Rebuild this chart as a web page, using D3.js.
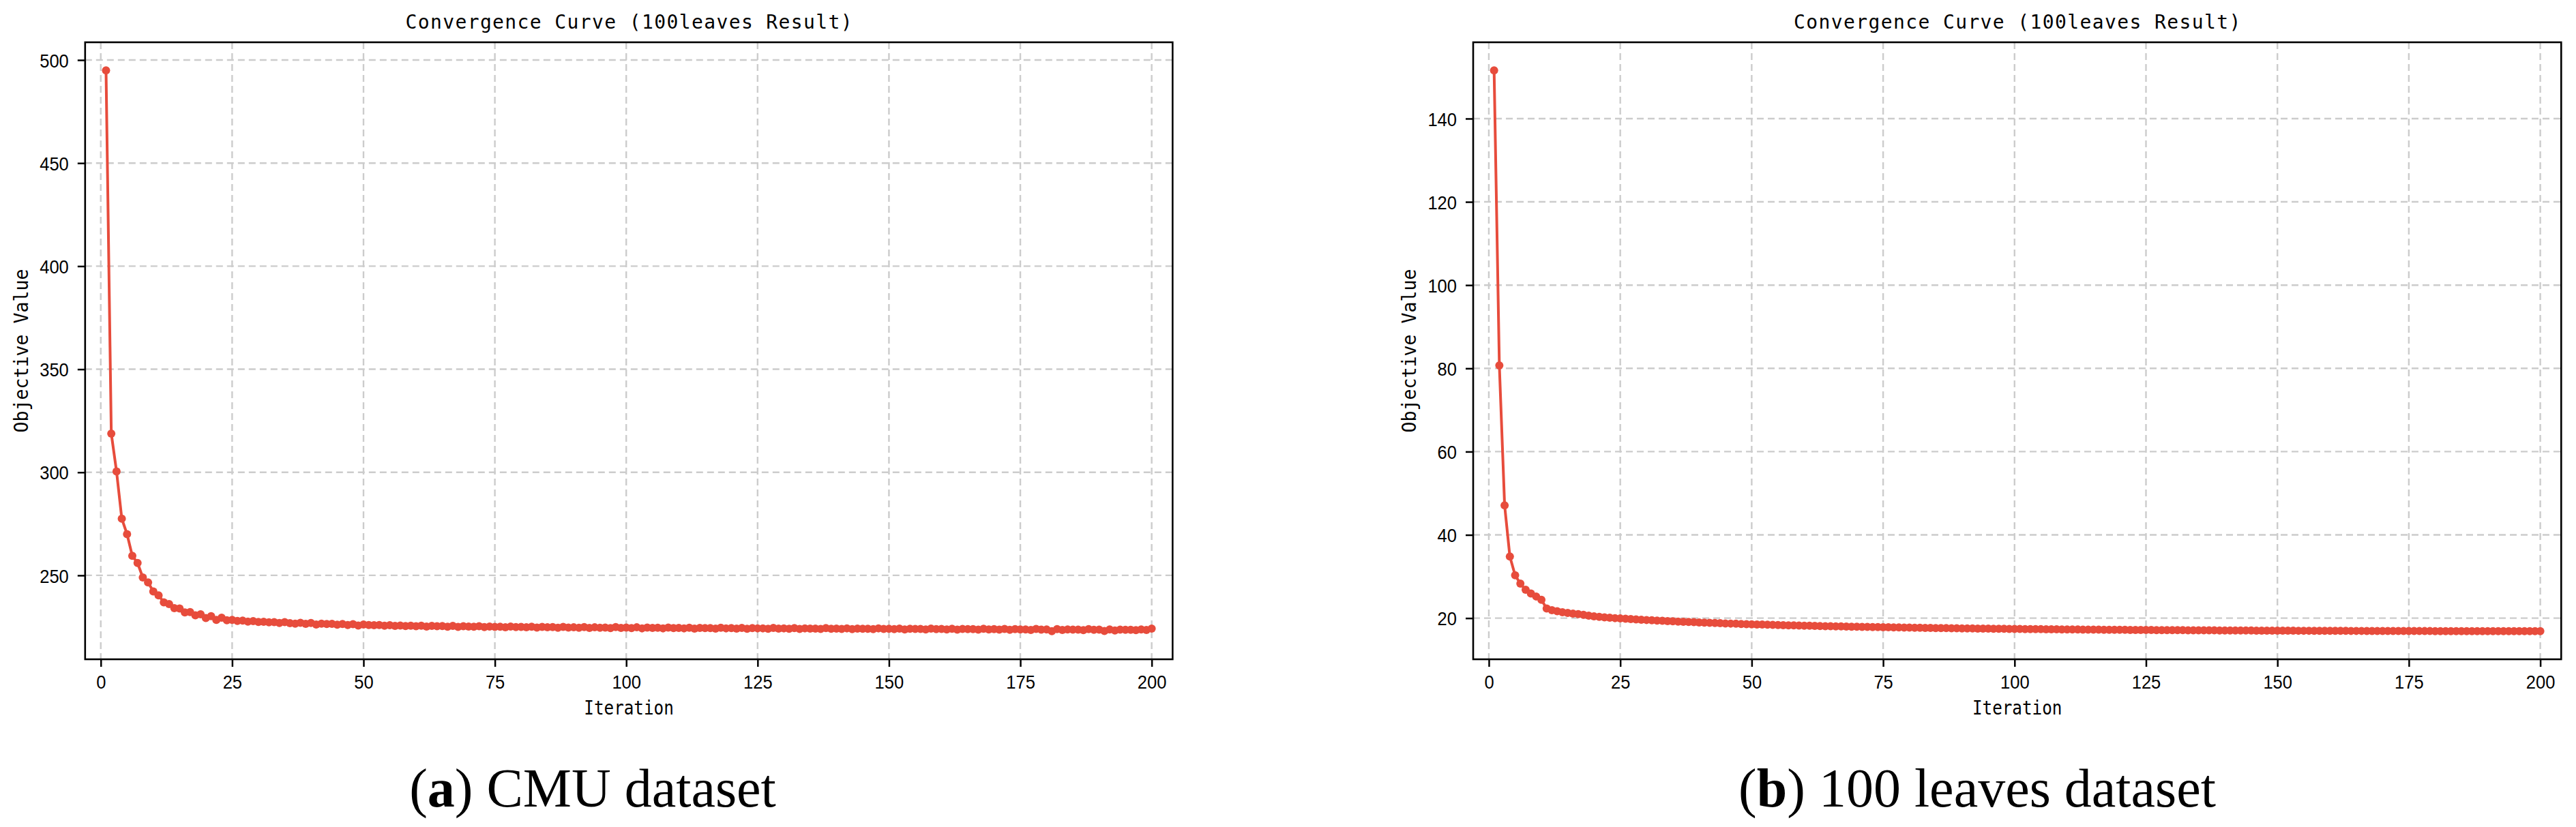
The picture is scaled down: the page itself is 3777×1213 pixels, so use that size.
<!DOCTYPE html>
<html>
<head>
<meta charset="utf-8">
<script src="https://cdn.jsdelivr.net/npm/d3@7/dist/d3.min.js"></script>
<style>
  html, body { margin: 0; padding: 0; background: #fff; }
  svg { display: block; }
</style>
</head>
<body>
<div id="chart"></div>
<script>
// ---------------- DATA ----------------
const iterations = d3.range(1, 201); // 1..200

const cmuValues = [
  495.0, 318.8, 300.4, 277.5, 270.0, 259.5, 256.0, 249.0, 246.6, 242.2,
  240.3, 236.9, 236.1, 234.1, 233.9, 232.0, 232.2, 230.6, 231.1, 229.3,
  230.2, 228.4, 229.5, 228.2, 228.4, 227.9, 228.1, 227.6, 227.8, 227.4,
  227.5, 227.2, 227.3, 226.9, 227.3, 226.8, 226.6, 227.0, 226.5, 226.9,
  226.2, 226.6, 226.4, 226.5, 226.1, 226.4, 225.9, 226.3, 225.7, 226.2,
  225.9, 225.8, 225.9, 225.6, 225.8, 225.5, 225.7, 225.4, 225.6, 225.3,
  225.6, 225.2, 225.5, 225.3, 225.4, 225.1, 225.5, 225.0, 225.3, 225.2,
  225.1, 225.3, 224.9, 225.2, 225.0, 225.1, 224.8, 225.2, 224.9, 225.0,
  224.8, 225.1, 224.7, 225.0, 224.8, 224.9, 224.6, 225.0, 224.7, 224.8,
  224.6, 224.9, 224.5, 224.8, 224.6, 224.7, 224.4, 224.9, 224.5, 224.7,
  224.4, 224.8, 224.3, 224.7, 224.5, 224.6, 224.3, 224.7, 224.4, 224.5,
  224.3, 224.6, 224.2, 224.5, 224.4, 224.4, 224.2, 224.6, 224.3, 224.4,
  224.2, 224.5, 224.1, 224.4, 224.3, 224.3, 224.1, 224.5, 224.2, 224.3,
  224.1, 224.4, 224.0, 224.3, 224.2, 224.2, 224.0, 224.4, 224.1, 224.2,
  224.0, 224.3, 223.9, 224.2, 224.1, 224.1, 223.9, 224.3, 224.0, 224.1,
  223.9, 224.2, 223.8, 224.1, 224.0, 224.0, 223.8, 224.2, 223.9, 224.0,
  223.8, 224.1, 223.7, 224.0, 223.9, 223.9, 223.7, 224.1, 223.8, 223.9,
  223.7, 224.0, 223.6, 223.9, 223.8, 223.8, 223.5, 224.0, 223.7, 223.8,
  222.9, 223.9, 223.5, 223.8, 223.7, 223.7, 223.4, 223.9, 223.6, 223.7,
  223.0, 223.8, 223.3, 223.7, 223.6, 223.6, 223.4, 223.8, 223.5, 224.2
];

const leavesValues = [
  151.6, 80.7, 47.1, 34.8, 30.3, 28.3, 26.8, 25.9, 25.2, 24.4,
  22.3, 21.9, 21.65, 21.4, 21.25, 21.1, 20.95, 20.8, 20.6, 20.45,
  20.3, 20.2, 20.1, 20.0, 19.92, 19.85, 19.77, 19.7, 19.62, 19.55,
  19.48, 19.42, 19.36, 19.3, 19.24, 19.18, 19.12, 19.07, 19.02, 18.97,
  18.92, 18.87, 18.82, 18.78, 18.73, 18.69, 18.65, 18.6, 18.56, 18.52,
  18.48, 18.45, 18.41, 18.38, 18.34, 18.31, 18.28, 18.25, 18.22, 18.19,
  18.16, 18.13, 18.1, 18.07, 18.05, 18.02, 18.0, 17.97, 17.95, 17.92,
  17.9, 17.88, 17.86, 17.84, 17.82, 17.8, 17.78, 17.76, 17.74, 17.72,
  17.7, 17.68, 17.66, 17.64, 17.62, 17.61, 17.59, 17.57, 17.56, 17.54,
  17.53, 17.51, 17.5, 17.48, 17.47, 17.45, 17.44, 17.43, 17.41, 17.4,
  17.39, 17.37, 17.36, 17.35, 17.34, 17.33, 17.32, 17.3, 17.29, 17.28,
  17.27, 17.26, 17.25, 17.24, 17.23, 17.22, 17.21, 17.2, 17.2, 17.19,
  17.18, 17.17, 17.16, 17.15, 17.15, 17.14, 17.13, 17.12, 17.12, 17.11,
  17.1, 17.1, 17.09, 17.08, 17.08, 17.07, 17.06, 17.06, 17.05, 17.05,
  17.04, 17.03, 17.03, 17.02, 17.02, 17.01, 17.01, 17.0, 17.0, 16.99,
  16.99, 16.98, 16.98, 16.97, 16.97, 16.97, 16.96, 16.96, 16.95, 16.95,
  16.95, 16.94, 16.94, 16.93, 16.93, 16.93, 16.92, 16.92, 16.92, 16.91,
  16.91, 16.91, 16.9, 16.9, 16.9, 16.9, 16.89, 16.89, 16.89, 16.88,
  16.88, 16.88, 16.88, 16.87, 16.87, 16.87, 16.87, 16.86, 16.86, 16.86,
  16.86, 16.86, 16.85, 16.85, 16.85, 16.85, 16.85, 16.85, 16.85, 16.85
];

const xTickValues = [0, 25, 50, 75, 100, 125, 150, 175, 200];
const cmuYTicks = [250, 300, 350, 400, 450, 500];
const leavesYTicks = [20, 40, 60, 80, 100, 120, 140];

const titleText = "Convergence Curve (100leaves Result)";
const xLabelText = "Iteration";
const yLabelText = "Objective Value";
const captions = [
  { label: "a", text: " CMU dataset" },
  { label: "b", text: " 100 leaves dataset" }
];

// ---------------- LAYOUT ----------------
const W = 3777, H = 1213;
const LINE_COLOR = "#e74c3c";
const MONO = "'DejaVu Sans Mono', 'Liberation Mono', monospace";
const SANS = "'Liberation Sans', Arial, sans-serif";
const SERIF = "'Liberation Serif', 'Times New Roman', serif";

const panels = [
  { x0: 124.8, x1: 1719.3, values: cmuValues, yTicks: cmuYTicks, caption: captions[0], capX: 869 },
  { x0: 2160, x1: 3755.3, values: leavesValues, yTicks: leavesYTicks, caption: captions[1], capX: 2899 }
];
const PLOT_TOP = 62, PLOT_BOTTOM = 967;

const svg = d3.select("#chart").append("svg")
  .attr("width", W).attr("height", H)
  .attr("viewBox", `0 0 ${W} ${H}`);

svg.append("rect").attr("width", W).attr("height", H).attr("fill", "#fff");

panels.forEach(p => {
  const g = svg.append("g");
  const xMin = d3.min(iterations), xMax = d3.max(iterations);
  const xPad = (xMax - xMin) * 0.02;
  const x = d3.scaleLinear().domain([xMin - xPad, xMax + xPad]).range([p.x0, p.x1]);
  const yMin = d3.min(p.values), yMax = d3.max(p.values);
  const yPad = (yMax - yMin) * 0.05;
  const y = d3.scaleLinear().domain([yMin - yPad, yMax + yPad]).range([PLOT_BOTTOM, PLOT_TOP]);

  // grid
  const grid = g.append("g")
    .attr("stroke", "#cccccc")
    .attr("stroke-width", 2.4)
    .attr("stroke-dasharray", "10,6");
  grid.selectAll("line.gx").data(xTickValues).join("line")
    .attr("class", "gx")
    .attr("x1", d => x(d)).attr("x2", d => x(d))
    .attr("y1", PLOT_TOP).attr("y2", PLOT_BOTTOM);
  grid.selectAll("line.gy").data(p.yTicks).join("line")
    .attr("class", "gy")
    .attr("x1", p.x0).attr("x2", p.x1)
    .attr("y1", d => y(d)).attr("y2", d => y(d));

  // axes
  const xAxis = d3.axisBottom(x).tickValues(xTickValues).tickSize(11).tickPadding(10).tickFormat(d3.format("d"));
  const yAxis = d3.axisLeft(y).tickValues(p.yTicks).tickSize(11).tickPadding(13).tickFormat(d3.format("d"));

  const gx = g.append("g").attr("transform", `translate(0,${PLOT_BOTTOM})`).call(xAxis);
  const gy = g.append("g").attr("transform", `translate(${p.x0},0)`).call(yAxis);
  [gx, gy].forEach(ax => {
    ax.select(".domain").remove();
    ax.selectAll(".tick line").attr("stroke", "#000").attr("stroke-width", 2.5);
    ax.selectAll(".tick text")
      .attr("fill", "#000")
      .style("font-family", SANS)
      .style("font-size", "28px")
      .attr("textLength", function() { return this.textContent.length * 14.2; })
      .attr("lengthAdjust", "spacingAndGlyphs");
  });
  gx.selectAll(".tick text").attr("dy", null).attr("y", 43);
  gy.selectAll(".tick text").attr("dy", "0.36em");

  // data line + markers
  const pts = iterations.map((it, i) => [it, p.values[i]]);
  const line = d3.line().x(d => x(d[0])).y(d => y(d[1]));
  g.append("path").datum(pts)
    .attr("d", line)
    .attr("fill", "none")
    .attr("stroke", LINE_COLOR)
    .attr("stroke-width", 4)
    .attr("stroke-linejoin", "round");
  g.append("g").selectAll("circle").data(pts).join("circle")
    .attr("cx", d => x(d[0])).attr("cy", d => y(d[1]))
    .attr("r", 6)
    .attr("fill", LINE_COLOR);

  // frame
  g.append("rect")
    .attr("x", p.x0).attr("y", PLOT_TOP)
    .attr("width", p.x1 - p.x0).attr("height", PLOT_BOTTOM - PLOT_TOP)
    .attr("fill", "none").attr("stroke", "#000").attr("stroke-width", 2.6);

  const cx = (p.x0 + p.x1) / 2;
  // title
  g.append("text")
    .attr("x", cx).attr("y", 42)
    .attr("text-anchor", "middle")
    .style("font-family", MONO).style("font-size", "28px")
    .attr("textLength", titleText.length * 18.2)
    .attr("lengthAdjust", "spacing")
    .text(titleText);
  // x label
  g.append("text")
    .attr("x", cx).attr("y", 1048)
    .attr("text-anchor", "middle")
    .style("font-family", MONO).style("font-size", "28px")
    .attr("textLength", xLabelText.length * 14.6)
    .attr("lengthAdjust", "spacingAndGlyphs")
    .text(xLabelText);
  // y label
  const cy = (PLOT_TOP + PLOT_BOTTOM) / 2;
  g.append("text")
    .attr("transform", `translate(${p.x0 - 84},${cy}) rotate(-90)`)
    .attr("text-anchor", "middle")
    .style("font-family", MONO).style("font-size", "29px")
    .attr("textLength", yLabelText.length * 16)
    .attr("lengthAdjust", "spacingAndGlyphs")
    .text(yLabelText);

  // caption
  const cap = svg.append("text")
    .attr("x", p.capX).attr("y", 1183)
    .attr("text-anchor", "middle")
    .style("font-family", SERIF).style("font-size", "80px")
    .attr("fill", "#000");
  cap.append("tspan").text("(");
  cap.append("tspan").style("font-weight", "bold").text(p.caption.label);
  cap.append("tspan").text(")");
  cap.append("tspan").text(p.caption.text);
});
</script>
</body>
</html>
